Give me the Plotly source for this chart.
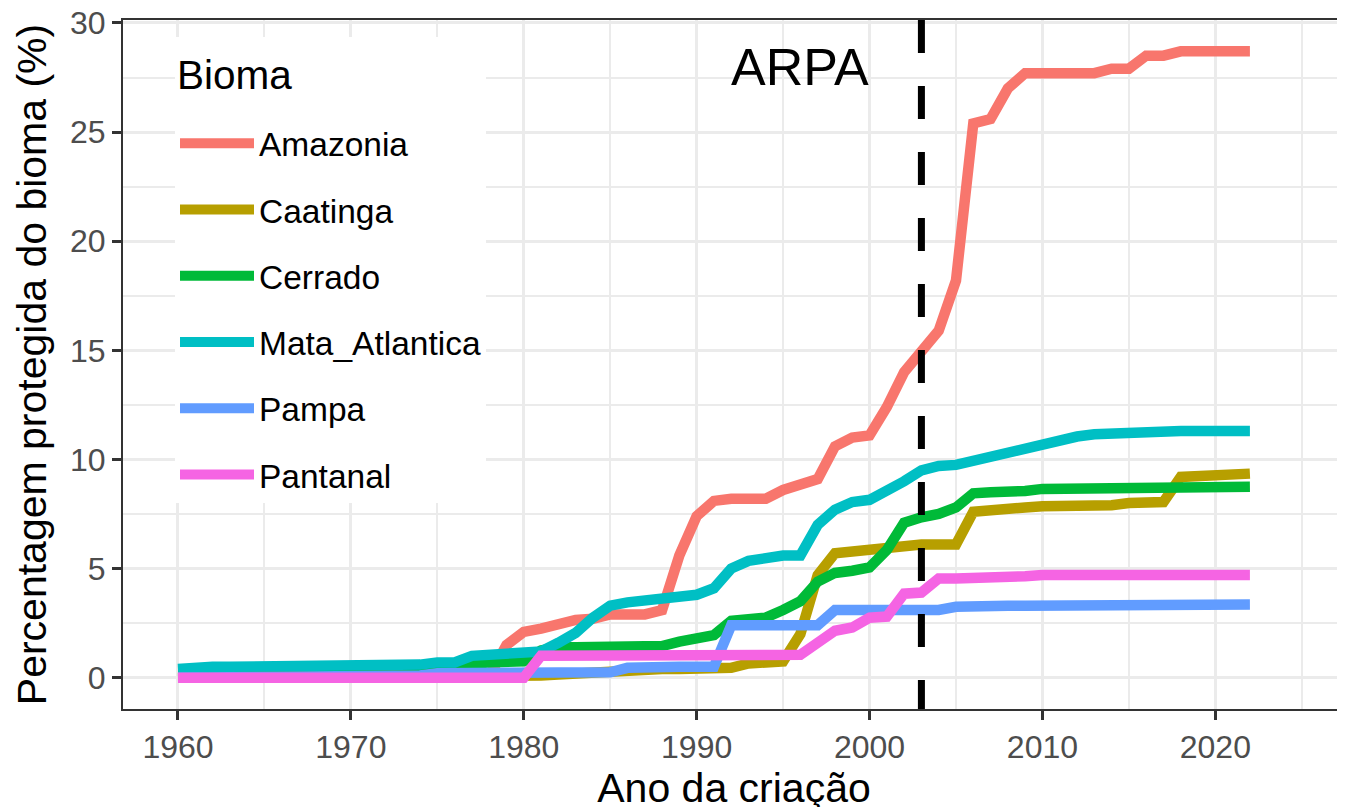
import plotly.graph_objects as go

YEARS = list(range(1960, 2023))

BIOMES = ["Amazonia", "Caatinga", "Cerrado", "Mata_Atlantica", "Pampa", "Pantanal"]
COLORS = ["#F8766D", "#B79F00", "#00BA38", "#00BFC4", "#619CFF", "#F564E3"]

AMAZONIA = [0.0] * 18 + [
    0.05, 1.5, 2.1, 2.25, 2.5, 2.65, 2.7, 2.9, 2.9, 2.9,
    3.1, 5.6, 7.4, 8.1, 8.2, 8.2, 8.2, 8.6, 8.8, 9.1,
    10.6, 11.0, 11.1, 12.4, 14.0, 14.9, 15.9, 18.2, 25.4, 25.6,
    27.0, 27.7, 27.7, 27.7, 27.7, 27.7, 27.9, 27.9, 28.5, 28.5,
    28.7, 28.7, 28.7, 28.7, 28.7]

CAATINGA = [0.0] * 21 + [
    0.1, 0.15, 0.2, 0.3, 0.35, 0.4, 0.4, 0.4, 0.4, 0.4,
    0.4, 0.45, 0.65, 0.75, 0.75, 2.0, 4.7, 5.7, 5.8, 5.85,
    5.95, 6.05, 6.1, 6.1, 6.1, 7.6, 7.7, 7.75, 7.8, 7.85,
    7.85, 7.9, 7.9, 7.9, 8.0, 8.05, 8.05, 9.2, 9.25, 9.35,
    9.35, 9.35]

CERRADO = [0.3] * 16 + [
    0.45, 0.65, 0.7, 0.7, 0.75, 1.25, 1.4, 1.4, 1.4, 1.4,
    1.4, 1.4, 1.45, 1.65, 1.8, 1.95, 2.6, 2.7, 2.75, 3.1,
    3.5, 4.4, 4.8, 4.9, 5.05, 5.85, 7.1, 7.35, 7.5, 7.8,
    8.45, 8.5, 8.5, 8.55, 8.65, 8.65, 8.65, 8.7, 8.7, 8.7,
    8.7, 8.7, 8.75, 8.75, 8.75, 8.75, 8.75]

MATA_ATLANTICA = [
    0.4, 0.5, 0.5, 0.5, 0.5, 0.5, 0.5, 0.5, 0.5, 0.5,
    0.5, 0.6, 0.6, 0.6, 0.6, 0.7, 0.7, 1.0, 1.05, 1.05,
    1.1, 1.2, 1.6, 2.05, 2.75, 3.3, 3.45, 3.55, 3.6, 3.7,
    3.8, 4.1, 5.0, 5.35, 5.5, 5.6, 5.6, 7.0, 7.7, 8.05,
    8.15, 8.55, 9.0, 9.5, 9.7, 9.75, 9.95, 10.1, 10.35, 10.45,
    10.65, 10.95, 11.05, 11.15, 11.2, 11.2, 11.25, 11.25, 11.3, 11.3,
    11.3, 11.3, 11.3]

PAMPA = [0.0] * 14 + [
    0.1, 0.2, 0.2, 0.2, 0.2, 0.2, 0.2, 0.2, 0.2, 0.2,
    0.2, 0.25, 0.45, 0.5, 0.5, 0.5, 0.5, 0.5, 2.4, 2.4,
    2.4, 2.4, 2.4, 2.4, 3.1, 3.1, 3.1, 3.1, 3.1, 3.1,
    3.1, 3.25, 3.3, 3.3, 3.3, 3.3, 3.3, 3.3, 3.3, 3.3,
    3.35, 3.35, 3.35, 3.35, 3.35, 3.35, 3.35, 3.35, 3.35]

PANTANAL = [0.0] * 21 + [
    1.0, 1.0, 1.0, 1.0, 1.0, 1.0, 1.0, 1.0, 1.0, 1.0,
    1.0, 1.0, 1.05, 1.05, 1.05, 1.05, 1.6, 2.15, 2.3, 2.75,
    2.8, 3.85, 3.9, 4.55, 4.55, 4.55, 4.55, 4.65, 4.65, 4.7,
    4.7, 4.7, 4.7, 4.7, 4.7, 4.7, 4.7, 4.7, 4.7, 4.7,
    4.7, 4.7]

SERIES = [AMAZONIA, CAATINGA, CERRADO, MATA_ATLANTICA, PAMPA, PANTANAL]

ARPA_YEAR = 2003
ARPA_LABEL = "ARPA"
ARPA_LABEL_POS = (1996, 28)

X_TICKS = [1960, 1970, 1980, 1990, 2000, 2010, 2020]
Y_TICKS = [0, 5, 10, 15, 20, 25, 30]

FONT = "Liberation Sans, Arial, sans-serif"

# page body adds an 8px offset; compensate in the margins
PAGE_OFF = 8
W, H = 1345, 807
PLOT_L, PLOT_T, PLOT_R, PLOT_B = 123, 20, 1345, 709   # target plot box in window px
M_L = PLOT_L - PAGE_OFF
M_T = PLOT_T - PAGE_OFF
M_R = W - (PLOT_R - PAGE_OFF)
M_B = H - (PLOT_B - PAGE_OFF)
PLOT_W, PLOT_H = PLOT_R - PLOT_L, PLOT_B - PLOT_T

fig = go.Figure()
for name, color, vals in zip(BIOMES, COLORS, SERIES):
    fig.add_trace(go.Scatter(
        x=YEARS, y=vals, mode="lines", name=name, legendgroup=name,
        line=dict(color=color, width=10.5),
    ))

fig.add_shape(type="line", xref="x", yref="paper", x0=ARPA_YEAR, x1=ARPA_YEAR,
              y0=1, y1=0, line=dict(color="black", width=7, dash="33px,33px"))

fig.add_annotation(x=ARPA_LABEL_POS[0], y=ARPA_LABEL_POS[1], xref="x", yref="y",
                   text=ARPA_LABEL, showarrow=False,
                   font=dict(size=52, color="black", family=FONT))

axis_common = dict(
    showgrid=True, gridcolor="#EBEBEB", gridwidth=2.5,
    zeroline=False, showline=True, linecolor="#333333", linewidth=2,
    ticks="outside", ticklen=9, tickwidth=2.5, tickcolor="#333333",
    tickfont=dict(size=32, color="#4D4D4D", family=FONT),
    ticklabeloverflow="allow",
    automargin=False,
)

fig.update_xaxes(
    **axis_common, range=[1956.82, 2027.5], tickvals=X_TICKS, mirror=True,
    minor=dict(dtick=5, tick0=1955, showgrid=True, gridcolor="#EBEBEB", gridwidth=1.5, ticks=""),
    title=dict(text="Ano da criação", font=dict(size=41, color="black", family=FONT), standoff=4),
)
fig.update_yaxes(
    **axis_common, range=[-1.435, 30.135], tickvals=Y_TICKS,
    minor=dict(dtick=2.5, tick0=0, showgrid=True, gridcolor="#EBEBEB", gridwidth=1.5, ticks=""),
    title=dict(text="Percentagem protegida do bioma (%)", font=dict(size=41, color="black", family=FONT), standoff=11),
)

LEG_LEFT, LEG_TOP = 175, 37
fig.update_layout(
    width=W, height=H,
    margin=dict(l=M_L, r=M_R, t=M_T, b=M_B),
    paper_bgcolor="white", plot_bgcolor="white",
    font=dict(family=FONT),
    showlegend=True,
    legend=dict(
        x=(LEG_LEFT - PLOT_L) / PLOT_W, y=1 - (LEG_TOP - PLOT_T) / PLOT_H,
        xanchor="left", yanchor="top",
        bgcolor="white", borderwidth=0,
        font=dict(size=33.5, color="black", family=FONT),
        title=dict(text="<br><span style='font-size:40.5px'>Bioma</span><br>",
                   font=dict(size=20, color="black", family=FONT)),
        traceorder="grouped", tracegroupgap=19.7, itemwidth=74,
    ),
)

fig.write_html("out.html")
